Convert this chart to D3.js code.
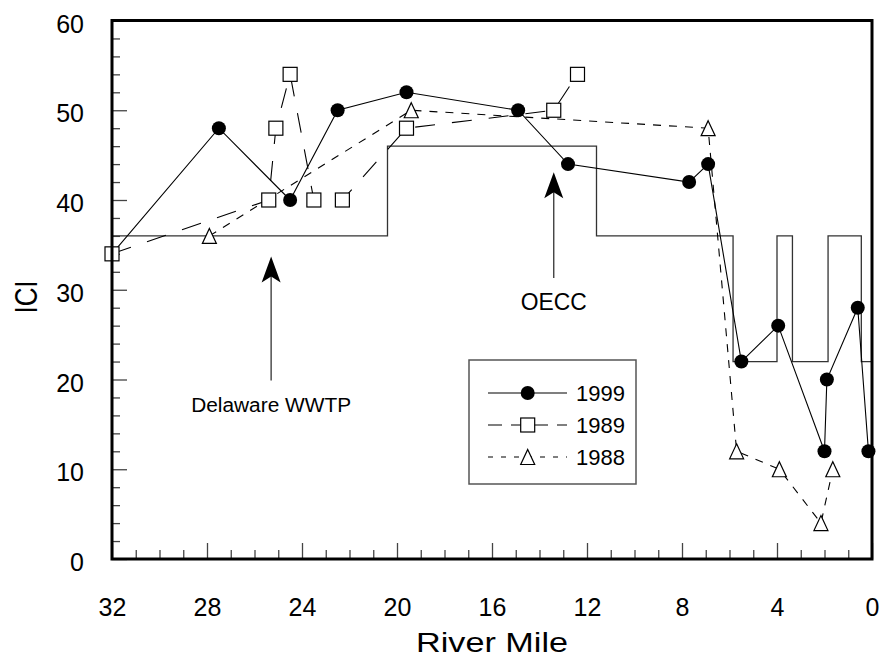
<!DOCTYPE html>
<html>
<head>
<meta charset="utf-8">
<script src="https://cdn.jsdelivr.net/npm/d3@7"></script>
<style>
  body { margin: 0; background: #fff; }
  svg { display: block; font-family: "Liberation Sans", Arial, Helvetica, sans-serif; }
</style>
</head>
<body>
<div id="chart"></div>
<script>
// ICI by river mile, three survey years
const miles1999 = [32, 27.5, 24.5, 22.5, 19.6, 14.9, 12.8, 7.7, 6.9, 5.5, 3.95, 2.0, 1.9, 0.6, 0.15];
const ici1999 = [34, 48, 40, 50, 52, 50, 44, 42, 44, 22, 26, 12, 20, 28, 12];

const miles1989 = [32, 25.4, 25.1, 24.5, 23.5, 22.3, 19.6, 13.4, 12.4];
const ici1989 = [34, 40, 48, 54, 40, 40, 48, 50, 54];

const miles1988 = [27.9, 19.4, 6.9, 5.7, 3.9, 2.15, 1.65];
const ici1988 = [36, 50, 48, 12, 10, 4, 10];

// criterion step line (value applies from this mile downstream)
const stepMiles = [32, 20.4, 11.6, 5.85, 4.0, 3.35, 1.85, 0.45, 0];
const stepIci = [36, 46, 36, 22, 36, 22, 36, 22, 22];

const xTicks = [32, 28, 24, 20, 16, 12, 8, 4, 0];
const yTicks = [0, 10, 20, 30, 40, 50, 60];

const W = 880, H = 661;
const margin = { top: 20.5, right: 8, bottom: 102, left: 112 };
const width = W - margin.left - margin.right;
const height = H - margin.top - margin.bottom;

const svg = d3.select("#chart").append("svg").attr("width", W).attr("height", H);
const g = svg.append("g").attr("transform", `translate(${margin.left},${margin.top})`);

const x = d3.scaleLinear().domain([32, 0]).range([0, width]);
const y = d3.scaleLinear().domain([0, 60]).range([height, 0]);

const zip = (ms, vs) => ms.map((m, i) => ({ mile: m, ici: vs[i] }));
const s1999 = zip(miles1999, ici1999);
const s1989 = zip(miles1989, ici1989);
const s1988 = zip(miles1988, ici1988);
const step = zip(stepMiles, stepIci);

// minor ticks
const minorX = d3.range(0, 33, 1).filter((d) => xTicks.indexOf(d) < 0);
const minorY = d3.range(0, 61, 2).filter((d) => yTicks.indexOf(d) < 0);

g.append("g")
  .attr("transform", `translate(0,${height})`)
  .call(d3.axisBottom(x).tickValues(minorX).tickSizeInner(-9).tickSizeOuter(0).tickFormat(""))
  .call((a) => a.select(".domain").remove());
g.append("g")
  .call(d3.axisLeft(y).tickValues(minorY).tickSizeInner(-8).tickSizeOuter(0).tickFormat(""))
  .call((a) => a.select(".domain").remove());

const xAxis = g.append("g")
  .attr("transform", `translate(0,${height})`)
  .call(d3.axisBottom(x).tickValues(xTicks).tickSizeInner(-16).tickSizeOuter(0).tickPadding(39));
xAxis.select(".domain").remove();
xAxis.selectAll("text").attr("font-size", 25).attr("font-family", null).attr("fill", "#000");

const yAxis = g.append("g")
  .call(d3.axisLeft(y).tickValues(yTicks).tickSizeInner(-15).tickSizeOuter(0).tickPadding(28));
yAxis.select(".domain").remove();
yAxis.selectAll("text").attr("font-size", 25).attr("font-family", null).attr("fill", "#000").attr("dy", "0.46em");

svg.selectAll(".tick line").attr("stroke", "#444").attr("stroke-width", 1.3);

// step criterion line
g.append("path")
  .datum(step)
  .attr("fill", "none")
  .attr("stroke", "#333")
  .attr("stroke-width", 1.3)
  .attr("d", d3.line().curve(d3.curveStepAfter).x((d) => x(d.mile)).y((d) => y(d.ici)));

const line = d3.line().x((d) => x(d.mile)).y((d) => y(d.ici));

g.append("path").datum(s1988).attr("fill", "none").attr("stroke", "#000")
  .attr("stroke-width", 1.1).attr("stroke-dasharray", "8,8").attr("d", line);
g.append("path").datum(s1989).attr("fill", "none").attr("stroke", "#000")
  .attr("stroke-width", 1.1).attr("stroke-dasharray", "20,17").attr("d", line);
g.append("path").datum(s1999).attr("fill", "none").attr("stroke", "#000")
  .attr("stroke-width", 1.1).attr("d", line);

const triPath = "M0,-7.5L7,7.5L-7,7.5Z";

function drawCircle(sel) {
  sel.append("circle").attr("r", 7).attr("fill", "#000");
}
function drawSquare(sel) {
  sel.append("rect").attr("x", -7).attr("y", -7).attr("width", 14).attr("height", 14)
    .attr("fill", "#fff").attr("stroke", "#000").attr("stroke-width", 1.2);
}
function drawTriangle(sel) {
  sel.append("path").attr("d", triPath)
    .attr("fill", "#fff").attr("stroke", "#000").attr("stroke-width", 1.2);
}

function markers(data, fn) {
  g.append("g").selectAll("g").data(data).enter().append("g")
    .attr("transform", (d) => `translate(${x(d.mile)},${y(d.ici)})`)
    .call(fn);
}
markers(s1999, drawCircle);
markers(s1989, drawSquare);
markers(s1988, drawTriangle);

// annotation arrows
const arrows = [
  { label: "Delaware WWTP", mile: 25.3, tip: 33.7, tail: 19.9, size: 20, len: 160 },
  { label: "OECC", mile: 13.4, tip: 43.1, tail: 31.3, size: 23, len: 66 }
];
const ann = g.append("g").selectAll("g").data(arrows).enter().append("g");
ann.append("line")
  .attr("x1", (d) => x(d.mile)).attr("x2", (d) => x(d.mile))
  .attr("y1", (d) => y(d.tip) + 18).attr("y2", (d) => y(d.tail))
  .attr("stroke", "#333").attr("stroke-width", 1.3);
ann.append("path")
  .attr("d", "M0,0L9.5,26L0,20L-9.5,26Z")
  .attr("transform", (d) => `translate(${x(d.mile)},${y(d.tip)})`)
  .attr("fill", "#000");
ann.append("text")
  .attr("x", (d) => x(d.mile))
  .attr("y", (d) => y(d.tail) + 32)
  .attr("text-anchor", "middle")
  .attr("font-size", (d) => d.size)
  .attr("textLength", (d) => d.len)
  .attr("lengthAdjust", "spacingAndGlyphs")
  .text((d) => d.label);

// frame
g.append("rect").attr("width", width).attr("height", height)
  .attr("fill", "none").attr("stroke", "#000").attr("stroke-width", 3);

// legend
const legendItems = [
  { name: "1999", fn: drawCircle, dash: null },
  { name: "1989", fn: drawSquare, dash: "14,9" },
  { name: "1988", fn: drawTriangle, dash: "5,8" }
];
const legend = svg.append("g").attr("transform", "translate(469,360)");
legend.append("rect").attr("width", 167).attr("height", 124)
  .attr("fill", "#fff").attr("stroke", "#555").attr("stroke-width", 1.5);
const rows = legend.selectAll("g").data(legendItems).enter().append("g")
  .attr("transform", (d, i) => `translate(0,${33 + i * 32})`);
rows.append("line").attr("x1", 19).attr("x2", 98)
  .attr("stroke", "#000").attr("stroke-width", 1.1)
  .attr("stroke-dasharray", (d) => d.dash);
rows.append("g").attr("transform", "translate(58.7,0)").each(function (d) {
  d.fn(d3.select(this));
});
rows.append("text").attr("x", 107).attr("dy", "0.36em").attr("font-size", 22)
  .text((d) => d.name);

// axis titles
svg.append("text")
  .attr("x", margin.left + width / 2).attr("y", 652)
  .attr("text-anchor", "middle").attr("font-size", 27)
  .attr("textLength", 152).attr("lengthAdjust", "spacingAndGlyphs")
  .text("River Mile");
svg.append("text")
  .attr("transform", "translate(37,297) rotate(-90)")
  .attr("text-anchor", "middle").attr("font-size", 32)
  .attr("textLength", 33).attr("lengthAdjust", "spacingAndGlyphs")
  .text("ICI");
</script>
</body>
</html>
